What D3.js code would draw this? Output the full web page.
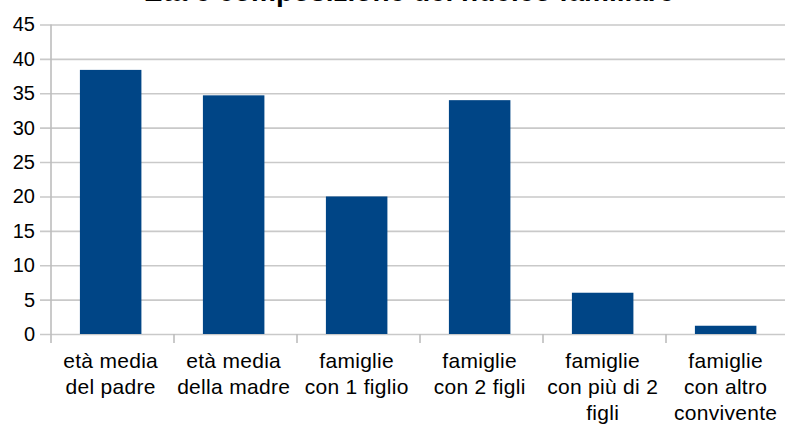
<!DOCTYPE html>
<html>
<head>
<meta charset="utf-8">
<script src="https://cdn.jsdelivr.net/npm/d3@7"></script>
<style>
  body { margin: 0; background: #fff; }
  svg { display: block; }
  text { font-family: "Liberation Sans", Arial, sans-serif; }
</style>
</head>
<body>
<svg id="chart"></svg>
<script>
const title = "Età e composizione del nucleo familiare";
const categories = [
    "età media\ndel padre",
    "età media\ndella madre",
    "famiglie\ncon 1 figlio",
    "famiglie\ncon 2 figli",
    "famiglie\ncon più di 2\nfigli",
    "famiglie\ncon altro\nconvivente"
];
const values = [38.4, 34.7, 20.0, 34.0, 6.0, 1.2];
const yTicks = [0, 5, 10, 15, 20, 25, 30, 35, 40, 45];

const width = 785, height = 425;
const plotLeft = 51, plotTop = 24.5, plotBottom = 334;

const svg = d3.select("#chart")
    .attr("width", width)
    .attr("height", height);

svg.append("rect")
    .attr("width", width).attr("height", height)
    .attr("fill", "#fff");

const x = d3.scaleBand()
    .domain(categories)
    .range([plotLeft, plotLeft + 6 * 123])
    .paddingInner(0.5)
    .paddingOuter(0.25)
    .align(0.47);

const y = d3.scaleLinear()
    .domain([0, 45])
    .range([plotBottom, plotTop]);

// gridlines + y labels
const yaxis = d3.axisLeft(y)
    .tickValues(yTicks)
    .tickSize(-(width - 40))
    .tickPadding(5);

const yg = svg.append("g")
    .attr("transform", `translate(40,0)`)
    .call(yaxis);
yg.select(".domain").remove();
yg.selectAll(".tick line")
    .attr("stroke", "#c9c9c9")
    .attr("stroke-width", 1.6);
yg.selectAll(".tick text")
    .attr("font-size", "20px")
    .attr("font-family", "Liberation Sans, Arial, sans-serif")
    .attr("fill", "#000");

// vertical axis line
svg.append("line")
    .attr("x1", plotLeft).attr("x2", plotLeft)
    .attr("y1", plotTop).attr("y2", plotBottom + 9)
    .attr("stroke", "#bdbdbd")
    .attr("stroke-width", 1.6);

// category boundary ticks
svg.append("g").selectAll("line")
    .data(d3.range(1, categories.length + 1))
    .join("line")
    .attr("x1", i => plotLeft + i * x.step())
    .attr("x2", i => plotLeft + i * x.step())
    .attr("y1", plotBottom)
    .attr("y2", plotBottom + 9)
    .attr("stroke", "#bdbdbd")
    .attr("stroke-width", 1.6);

// bars
svg.append("g").selectAll("rect")
    .data(values)
    .join("rect")
    .attr("x", (d, i) => x(categories[i]))
    .attr("y", d => y(d))
    .attr("width", x.bandwidth())
    .attr("height", d => y(0) - y(d))
    .attr("fill", "#004586");

// category labels
const labels = svg.append("g").selectAll("text")
    .data(categories)
    .join("text")
    .attr("x", d => x(d) + x.bandwidth() / 2)
    .attr("y", 368)
    .attr("text-anchor", "middle")
    .attr("font-size", "21px")
    .attr("letter-spacing", "0.3px")
    .attr("fill", "#000");

labels.selectAll("tspan")
    .data(d => d.split("\n"))
    .join("tspan")
    .attr("x", function() { return d3.select(this.parentNode).attr("x"); })
    .attr("dy", (d, i) => i === 0 ? 0 : 26)
    .text(d => d);

// title (partly cut off at the top)
svg.append("text")
    .attr("x", 409)
    .attr("y", 0.5)
    .attr("text-anchor", "middle")
    .attr("font-size", "28px")
    .attr("font-weight", "bold")
    .attr("fill", "#000")
    .text(title);
</script>
</body>
</html>
